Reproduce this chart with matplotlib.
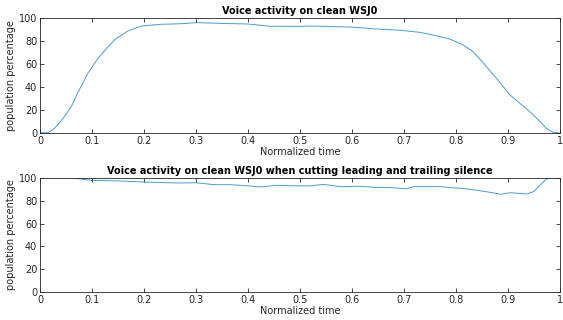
import matplotlib
matplotlib.use("Agg")
import matplotlib.pyplot as plt

# top panel: voice activity on clean WSJ0
t_full = [0.0, 0.015, 0.022, 0.030, 0.045, 0.060, 0.072, 0.092, 0.114, 0.143, 0.169, 0.195,
          0.231, 0.27, 0.301, 0.35, 0.40, 0.442, 0.50, 0.526, 0.603, 0.641, 0.692,
          0.731, 0.75, 0.788, 0.814, 0.833, 0.853, 0.878, 0.904, 0.923, 0.949,
          0.974, 0.987, 1.0]
v_full = [0.0, 0.3, 2.0, 5.0, 13.0, 22.9, 34.5, 51.9, 66.4, 80.9, 88.7, 93.0,
          94.5, 95.0, 96.0, 95.3, 94.8, 92.8, 92.7, 93.0, 92.0, 90.6, 89.4,
          87.5, 85.8, 81.7, 76.5, 70.7, 60.6, 47.5, 33.0, 25.8, 15.7,
          4.0, 0.5, 0.0]

# bottom panel: leading and trailing silence removed
t_cut = [0.0, 0.06, 0.098, 0.156, 0.2, 0.265, 0.3, 0.335, 0.365, 0.404, 0.423,
         0.455, 0.5, 0.519, 0.545, 0.577, 0.615, 0.641, 0.673, 0.705, 0.718,
         0.769, 0.82, 0.858, 0.887, 0.904, 0.936, 0.949, 0.962, 0.974, 0.987, 1.0]
v_cut = [100.0, 100.0, 97.7, 97.1, 96.2, 95.4, 95.6, 93.9, 93.9, 92.8, 91.9,
         93.3, 92.8, 92.8, 94.2, 92.2, 92.5, 91.6, 91.4, 90.3, 92.2,
         92.2, 90.3, 87.8, 85.5, 86.9, 85.8, 87.8, 93.6, 98.9, 100.0, 100.0]

titles = ["Voice activity on clean WSJ0",
          "Voice activity on clean WSJ0 when cutting leading and trailing silence"]
xticks = [0, 0.1, 0.2, 0.3, 0.4, 0.5, 0.6, 0.7, 0.8, 0.9, 1]
xtick_labels = ["0", "0.1", "0.2", "0.3", "0.4", "0.5", "0.6", "0.7", "0.8", "0.9", "1"]
yticks = [0, 20, 40, 60, 80, 100]

W, H = 563, 320
fig = plt.figure(figsize=(W / 100, H / 100), dpi=100)
gray = "#262626"

# axes boxes in pixels: (left, top, right, bottom)
boxes = [(40, 18, 560, 133), (40, 177.7, 560, 292.3)]
series = [(t_full, v_full), (t_cut, v_cut)]

for (l, t, r, b), (x, y), title in zip(boxes, series, titles):
    ax = fig.add_axes([l / W, 1 - b / H, (r - l) / W, (b - t) / H])
    ax.plot(x, y, color="#0072BD", lw=0.7, alpha=0.7)
    ax.set_xlim(0, 1)
    ax.set_ylim(0, 100)
    ax.set_xticks(xticks)
    ax.set_xticklabels(xtick_labels)
    ax.set_yticks(yticks)
    ax.tick_params(direction="in", top=True, right=True, length=3, width=0.6,
                   colors=gray, labelsize=7, pad=2)
    for s in ax.spines.values():
        s.set_color(gray)
        s.set_linewidth(0.6)
    ax.set_xlabel("Normalized time", fontsize=7, color=gray, labelpad=1)
    ax.set_ylabel("population percentage", fontsize=7, color=gray, labelpad=2)
    ax.set_title(title, fontsize=7, fontweight="bold", color="black", pad=3)

fig.savefig("out.png", dpi=100)
